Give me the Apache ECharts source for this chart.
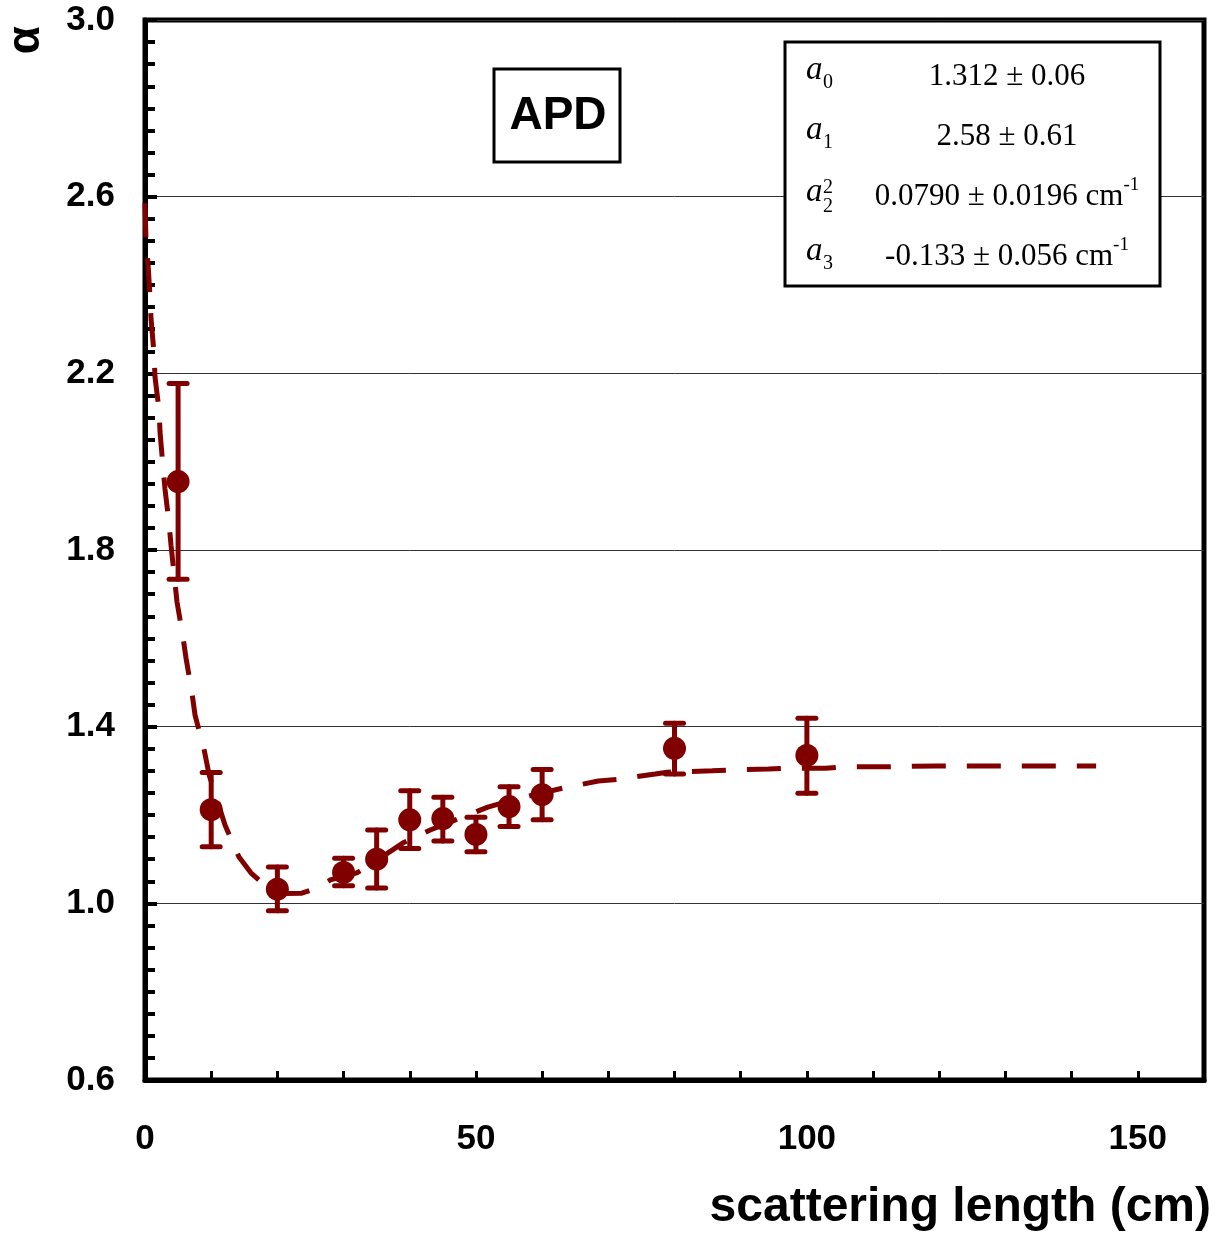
<!DOCTYPE html>
<html>
<head>
<meta charset="utf-8">
<title>alpha vs scattering length</title>
<script src="https://cdn.jsdelivr.net/npm/echarts@6/dist/echarts.min.js"></script>
<style>html,body{margin:0;background:#fff}#main{width:1229px;height:1234px}</style>
</head>
<body>
<div id="main"></div>
<script>
// measured points
var lengthCm = [5, 10, 20, 30, 35, 40, 45, 50, 55, 60, 80, 100];
var alpha    = [1.955, 1.212, 1.032, 1.070, 1.100, 1.189, 1.192, 1.156, 1.219, 1.246, 1.351, 1.335];
var errLow   = [1.734, 1.128, 0.983, 1.040, 1.035, 1.124, 1.141, 1.117, 1.174, 1.189, 1.293, 1.249];
var errHigh  = [2.177, 1.296, 1.082, 1.102, 1.166, 1.255, 1.240, 1.195, 1.264, 1.303, 1.408, 1.419];

// fit curve
var fitX = [0, 0.15, 0.45, 0.76, 0.91, 1.36, 1.51, 2.12, 2.27, 2.72, 3.02, 3.63, 3.93, 4.84, 5.74, 6.2, 7.1, 7.56, 8.92, 9.7,
            12.1, 14.2, 16.0, 18.4, 21.0, 23.7, 26.0, 28.0, 32.0, 34.0, 39.0, 43.1, 46.9, 51.8, 55.6, 58.6, 63.2, 68.5,
            71.6, 77.1, 78.9, 85.7, 88.7, 94.2, 97.2, 102.8, 105.8, 111.1, 119.7, 128.2, 136.9, 143.7];
var fitY = [2.585, 2.502, 2.45, 2.373, 2.323, 2.246, 2.192, 2.117, 2.067, 1.988, 1.938, 1.861, 1.811, 1.682, 1.603, 1.555, 1.476, 1.426, 1.349, 1.29,
            1.177, 1.105, 1.069, 1.037, 1.022, 1.023, 1.035, 1.053, 1.069, 1.087, 1.137, 1.166, 1.189, 1.218, 1.234, 1.245, 1.261, 1.277,
            1.281, 1.293, 1.297, 1.300, 1.302, 1.304, 1.306, 1.306, 1.309, 1.309, 1.311, 1.311, 1.311, 1.311];

var xTicksShown = [0, 50, 100, 150];

var red = '#800000';
var chart = echarts.init(document.getElementById('main'));

var fitData = fitX.map(function (x, i) { return [x, fitY[i]]; });
var ptData = lengthCm.map(function (x, i) { return [x, alpha[i]]; });
var errData = lengthCm.map(function (x, i) { return [x, errLow[i], errHigh[i]]; });

var serif = 'Liberation Serif';
var sans = 'Liberation Sans';

function aLabel(y, sub, sup) {
  var out = [
    { type: 'text', left: 806, top: y - 20, z: 101,
      style: { text: 'a', font: 'italic 33px ' + serif, fill: '#000' } },
    { type: 'text', left: 823, top: y - 1 + (sup ? 2 : 0), z: 101,
      style: { text: sub, font: '20px ' + serif, fill: '#000' } }
  ];
  if (sup) out.push({ type: 'text', left: 823, top: y - 18, z: 101,
      style: { text: sup, font: '20px ' + serif, fill: '#000' } });
  return out;
}
function valLabel(y, txt, unit) {
  return { type: 'text', x: 1007, y: y, z: 101,
    style: {
      text: unit ? '{v|' + txt + '}{s|-1}' : '{v|' + txt + '}',
      align: 'center', verticalAlign: 'middle',
      rich: {
        v: { font: '31px ' + serif, fill: '#000', lineHeight: 36, verticalAlign: 'bottom' },
        s: { font: '19px ' + serif, fill: '#000', lineHeight: 36, verticalAlign: 'top' }
      }
    } };
}

var graphics = [
  { type: 'rect', shape: { x: 494, y: 69, width: 126, height: 93 }, z: 100,
    style: { fill: '#fff', stroke: '#000', lineWidth: 3 } },
  { type: 'text', x: 558, y: 116, z: 101,
    style: { text: 'APD', font: 'bold 46px ' + sans, fill: '#000', align: 'center', verticalAlign: 'middle' } },
  { type: 'rect', shape: { x: 785, y: 42, width: 375, height: 244 }, z: 100,
    style: { fill: '#fff', stroke: '#000', lineWidth: 3 } },
  valLabel(74, '1.312 \u00b1 0.06', false),
  valLabel(134, '2.58 \u00b1 0.61', false),
  valLabel(194, '0.0790 \u00b1 0.0196 cm', true),
  valLabel(254, '-0.133 \u00b1 0.056 cm', true),
  { type: 'text', x: 26, y: 40, rotation: Math.PI / 2, z: 101,
    style: { text: '\u03b1', font: 'bold 46px ' + sans, fill: '#000', align: 'center', verticalAlign: 'middle' } },
  { type: 'text', x: 1211, y: 1208, z: 101,
    style: { text: 'scattering length (cm)', font: 'bold 48px ' + sans, fill: '#000', align: 'right', verticalAlign: 'middle' } }
].concat(aLabel(74, '0'), aLabel(134, '1'), aLabel(196, '2', '2'), aLabel(255, '3'));

var option = {
  backgroundColor: '#fff',
  animation: false,
  grid: { left: 145, right: 25, top: 20, bottom: 154, show: true, borderColor: '#000', borderWidth: 5, backgroundColor: 'transparent' },
  xAxis: {
    type: 'value', min: 0, max: 160, interval: 10,
    axisLine: { show: true, onZero: false, lineStyle: { color: '#000', width: 5 } },
    axisTick: { show: true, inside: true, length: 9, lineStyle: { color: '#000', width: 3 } },
    splitLine: { show: false },
    axisLabel: {
      color: '#000', fontSize: 35, fontWeight: 'bold', fontFamily: sans, margin: 42,
      formatter: function (v) { return xTicksShown.indexOf(v) >= 0 ? String(v) : ''; }
    }
  },
  yAxis: {
    type: 'value', min: 0.6, max: 3.0, interval: 0.4,
    axisLine: { show: true, onZero: false, lineStyle: { color: '#000', width: 5 } },
    axisTick: { show: true, inside: true, length: 12, lineStyle: { color: '#000', width: 4 } },
    minorTick: { show: true, splitNumber: 8, length: 10, lineStyle: { color: '#000', width: 4 } },
    splitLine: { show: true, lineStyle: { color: '#333', width: 1 } },
    axisLabel: {
      color: '#000', fontSize: 35, fontWeight: 'bold', fontFamily: sans, margin: 30,
      formatter: function (v) { return v.toFixed(1); }
    }
  },
  graphic: graphics,
  series: [
    {
      type: 'custom', data: errData, encode: { x: 0, y: [1, 2] }, z: 3,
      renderItem: function (params, api) {
        var top = api.coord([api.value(0), api.value(2)]);
        var bot = api.coord([api.value(0), api.value(1)]);
        var w = 9;
        var st = { stroke: red, lineWidth: 5, lineCap: 'round' };
        return { type: 'group', children: [
          { type: 'line', shape: { x1: top[0], y1: top[1], x2: bot[0], y2: bot[1] }, style: st },
          { type: 'line', shape: { x1: top[0] - w, y1: top[1], x2: top[0] + w, y2: top[1] }, style: st },
          { type: 'line', shape: { x1: bot[0] - w, y1: bot[1], x2: bot[0] + w, y2: bot[1] }, style: st }
        ] };
      }
    },
    {
      type: 'line', data: fitData, showSymbol: false, z: 4,
      lineStyle: { color: red, width: 5, type: [34, 21] }
    },
    {
      type: 'scatter', data: ptData, symbol: 'circle', symbolSize: 23, z: 5,
      itemStyle: { color: red, opacity: 1 }
    }
  ]
};
chart.setOption(option);
</script>
</body>
</html>
